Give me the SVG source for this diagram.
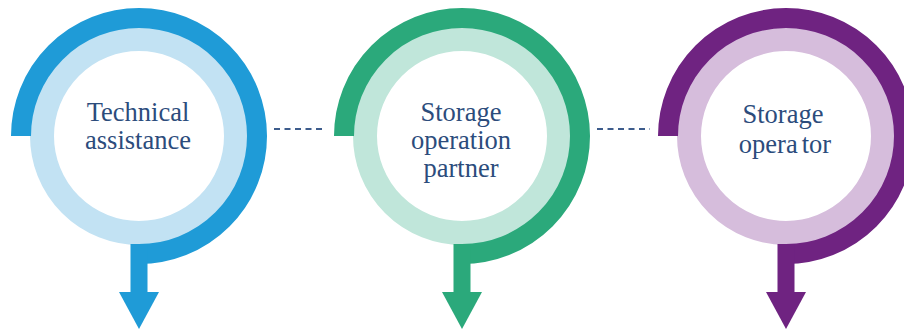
<svg xmlns="http://www.w3.org/2000/svg" width="904" height="332" viewBox="0 0 904 332">
<style>
.bg{fill:#ffffff}
.ring{fill:none;stroke-width:24}
.arc{fill:none;stroke-width:20;stroke-linecap:butt}
.lbl{font-size:26.5px;fill:#2c4c7c;text-anchor:middle}
.dash{stroke:#3d5c8c;stroke-width:2.2;stroke-dasharray:6 4.5;fill:none}
.blue .ring{stroke:#c2e2f3}.blue .arc{stroke:#1f9bd7}.blue .dk{fill:#1f9bd7}
.green .ring{stroke:#c0e6da}.green .arc{stroke:#2ba97b}.green .dk{fill:#2ba97b}
.purple .ring{stroke:#d6bddc}.purple .arc{stroke:#6f2381}.purple .dk{fill:#6f2381}
</style>
<rect class="bg" x="0" y="0" width="904" height="332"/>
<g id="connectors">
<line class="dash" x1="274" y1="129" x2="326" y2="129"/>
<line class="dash" x1="597" y1="129" x2="650" y2="129"/>
</g>
<g font-family="Liberation Serif, Times New Roman, serif">
<g id="node1" class="blue">
<circle class="ring" cx="139" cy="136" r="97"/>
<path class="arc" d="M21 136 A118 118 0 1 1 139 254"/>
<rect class="dk" x="130.5" y="244" width="17" height="50"/>
<polygon class="dk" points="119,292 159,292 139,329"/>
<text class="lbl" x="138" y="121">Technical</text>
<text class="lbl" x="138" y="149">assistance</text>
</g>
<g id="node2" class="green">
<circle class="ring" cx="462" cy="136" r="97"/>
<path class="arc" d="M344 136 A118 118 0 1 1 462 254"/>
<rect class="dk" x="453.5" y="244" width="17" height="50"/>
<polygon class="dk" points="442,292 482,292 462,329"/>
<text class="lbl" x="461" y="121">Storage</text>
<text class="lbl" x="461" y="149">operation</text>
<text class="lbl" x="461" y="177">partner</text>
</g>
<g id="node3" class="purple">
<circle class="ring" cx="786" cy="136" r="97"/>
<path class="arc" d="M668 136 A118 118 0 1 1 786 254"/>
<rect class="dk" x="777.5" y="244" width="17" height="50"/>
<polygon class="dk" points="766,292 806,292 786,329"/>
<text class="lbl" x="783" y="123">Storage</text>
<text class="lbl" x="785" y="153">opera<tspan dx="4">tor</tspan></text>
</g>
</g>
</svg>
